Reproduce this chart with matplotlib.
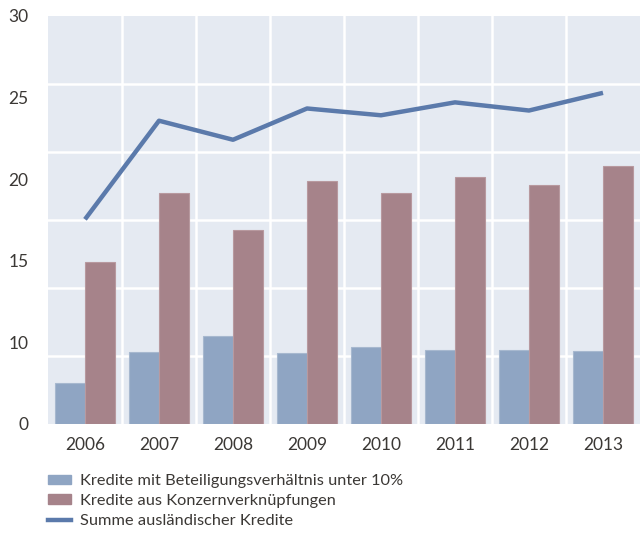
import matplotlib
matplotlib.use("Agg")
import matplotlib.pyplot as plt
from matplotlib.patches import Patch
from matplotlib.lines import Line2D
import numpy as np

years = ["2006", "2007", "2008", "2009", "2010", "2011", "2012", "2013"]
beteiligung = [3.0, 5.3, 6.5, 5.2, 5.65, 5.45, 5.45, 5.35]
konzern = [11.9, 16.95, 14.3, 17.9, 16.95, 18.15, 17.55, 18.95]
summe = [15.05, 22.3, 20.9, 23.2, 22.7, 23.65, 23.05, 24.35]
ytick_labels = ["0", "10", "15", "20", "25", "30"]

c_blue = "#8fa5c3"
c_red = "#a6838a"
c_line = "#5b7aab"
c_bg = "#e5eaf2"
c_text = "#3b3835"

plt.rcParams['font.family'] = ['Lato', 'DejaVu Sans']

fig = plt.figure(figsize=(6.41, 5.33), dpi=100)
W, H = 641, 533
ax = fig.add_axes([48 / W, 1 - 424 / H, (640 - 48) / W, (424 - 16) / H])
ax.set_facecolor(c_bg)

x = np.arange(len(years))
bw = 0.4
ax.bar(x - bw / 2, beteiligung, bw, color=c_blue, edgecolor="#a7b8cf", linewidth=0.8, zorder=3)
ax.bar(x + bw / 2, konzern, bw, color=c_red, edgecolor="#b8999f", linewidth=0.8, zorder=3)
ax.plot(x, summe, color=c_line, linewidth=3.2, zorder=4, solid_capstyle='butt')

ax.set_xlim(-0.5, len(years) - 0.5)
ax.set_ylim(0, 30)

# gridlines
ax.set_yticks(np.arange(0, 31, 5), minor=True)
ax.set_xticks(np.arange(0.5, len(years) - 0.5, 1), minor=True)
ax.grid(which='minor', color='white', linewidth=1.8, zorder=1)
ax.tick_params(which='minor', length=0)

# tick labels (positioned as in the reference)
ax.set_yticks(np.linspace(0, 30, len(ytick_labels)))
ax.set_yticklabels(ytick_labels)
ax.set_xticks(x)
ax.set_xticklabels(years)
ax.tick_params(which='major', length=0, labelsize=12.5, colors=c_text)
ax.tick_params(axis='y', pad=14)
ax.tick_params(axis='x', pad=9)

for s in ax.spines.values():
    s.set_visible(False)

handles = [
    Patch(facecolor=c_blue, edgecolor=c_blue),
    Patch(facecolor=c_red, edgecolor=c_red),
    Line2D([0], [0], color=c_line, linewidth=3.2),
]
labels = ["Kredite mit Beteiligungsverhältnis unter 10%",
          "Kredite aus Konzernverknüpfungen",
          "Summe ausländischer Kredite"]
leg = fig.legend(handles, labels, loc='upper left',
                 bbox_to_anchor=(48 / W, 1 - 474 / H), frameon=False,
                 fontsize=11.8, handlelength=1.4, handleheight=0.5,
                 handletextpad=0.55, labelspacing=0.36, borderpad=0,
                 borderaxespad=0)
for t in leg.get_texts():
    t.set_color(c_text)

fig.savefig("out.png", dpi=100)
